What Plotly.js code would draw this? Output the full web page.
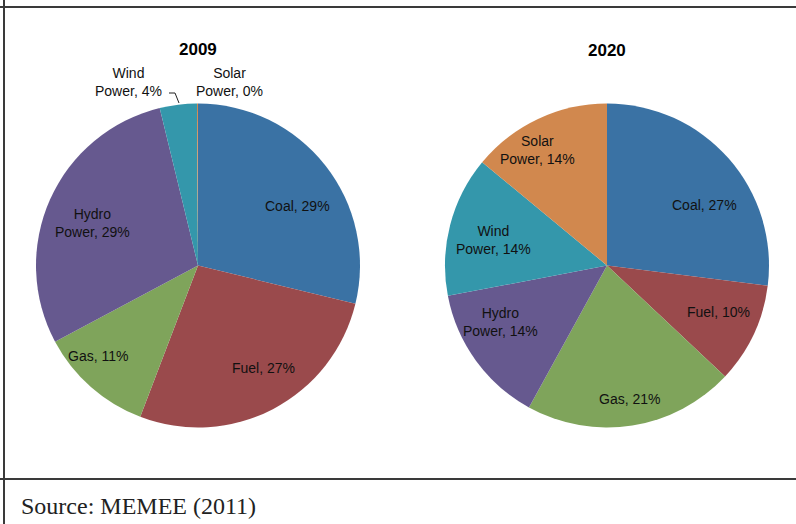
<!DOCTYPE html>
<html>
<head>
<meta charset="utf-8">
<script src="https://cdn.plot.ly/plotly-3.0.1.min.js"></script>
<style>
html,body{margin:0;padding:0;background:#fff;}
#chart{width:796px;height:524px;}
</style>
</head>
<body>
<div id="chart"></div>
<script>
const categories = ['Coal', 'Fuel', 'Gas', 'Hydro Power', 'Wind Power', 'Solar Power'];
const colors = ['#3A72A4', '#9A4A4C', '#7FA45B', '#66598F', '#3497AB', '#D1884E'];
const values2009 = [28.8, 27.0, 11.4, 29.0, 3.7, 0.1];
const values2020 = [27, 10, 21, 14, 14, 14];
const years = ['2009', '2020'];
const sourceNote = 'Source: MEMEE (2011)';

// label anchor positions in pixels (layout only)
const labelPos2009 = [[297, 206], [263, 368], [98, 356], [92, 223], [128, 82], [229, 82]];
const labelPos2020 = [[704, 205], [718, 312], [629, 399], [500, 322], [493, 240], [537, 150]];

const W = 796, H = 524;
const px = x => x / W;
const py = y => 1 - y / H;

function labelText(cat, v) {
  return cat.replace(' ', '<br>') + ', ' + Math.round(v) + '%';
}

const font = {family: 'Liberation Sans, Arial, sans-serif', size: 14, color: '#111'};

function makePie(values, domainX) {
  return {
    type: 'pie', labels: categories, values: values, sort: false,
    direction: 'clockwise', rotation: 0,
    marker: {colors: colors, line: {width: 0}},
    textinfo: 'none',
    hoverinfo: 'none',
    domain: {x: domainX, y: [py(428), py(103)]},
    showlegend: false
  };
}

const pie1 = makePie(values2009, [px(36), px(360)]);
const pie2 = makePie(values2020, [px(445), px(769)]);

const annotations = [];
function ann(text, x, y, f, extra) {
  annotations.push(Object.assign({text: text, x: px(x), y: py(y), xref: 'paper', yref: 'paper',
    xanchor: 'center', yanchor: 'middle', showarrow: false, font: f}, extra || {}));
}
const titleFont = {family: 'Liberation Sans, Arial, sans-serif', size: 17, color: '#000'};
ann('<b>' + years[0] + '</b>', 198, 49, titleFont);
ann('<b>' + years[1] + '</b>', 607, 51, titleFont);
categories.forEach((c, i) => {
  ann(labelText(c, values2009[i]), labelPos2009[i][0], labelPos2009[i][1], font);
  ann(labelText(c, values2020[i]), labelPos2020[i][0], labelPos2020[i][1], font);
});
ann(sourceNote, 19, 506, {family: 'Liberation Serif, Times New Roman, serif', size: 24, color: '#222'}, {xanchor: 'left'});

const lineStyle = {color: '#3a3a3a', width: 2};
const layout = {
  width: W, height: H,
  margin: {l: 0, r: 0, t: 0, b: 0},
  paper_bgcolor: '#fff',
  showlegend: false,
  font: font,
  annotations: annotations,
  shapes: [
    {type: 'line', xref: 'paper', yref: 'paper', x0: 0, x1: 1, y0: py(7), y1: py(7), line: lineStyle},
    {type: 'line', xref: 'paper', yref: 'paper', x0: 0, x1: 1, y0: py(479), y1: py(479), line: lineStyle},
    {type: 'line', xref: 'paper', yref: 'paper', x0: px(4), x1: px(4), y0: 0, y1: 1, line: lineStyle},
    {type: 'path', xref: 'paper', yref: 'paper', line: {color: '#222', width: 1},
     path: 'M ' + px(169) + ',' + py(93) + ' L ' + px(175) + ',' + py(93) + ' L ' + px(179) + ',' + py(103)}
  ]
};

Plotly.newPlot('chart', [pie1, pie2], layout, {displayModeBar: false, staticPlot: true});
</script>
</body>
</html>
